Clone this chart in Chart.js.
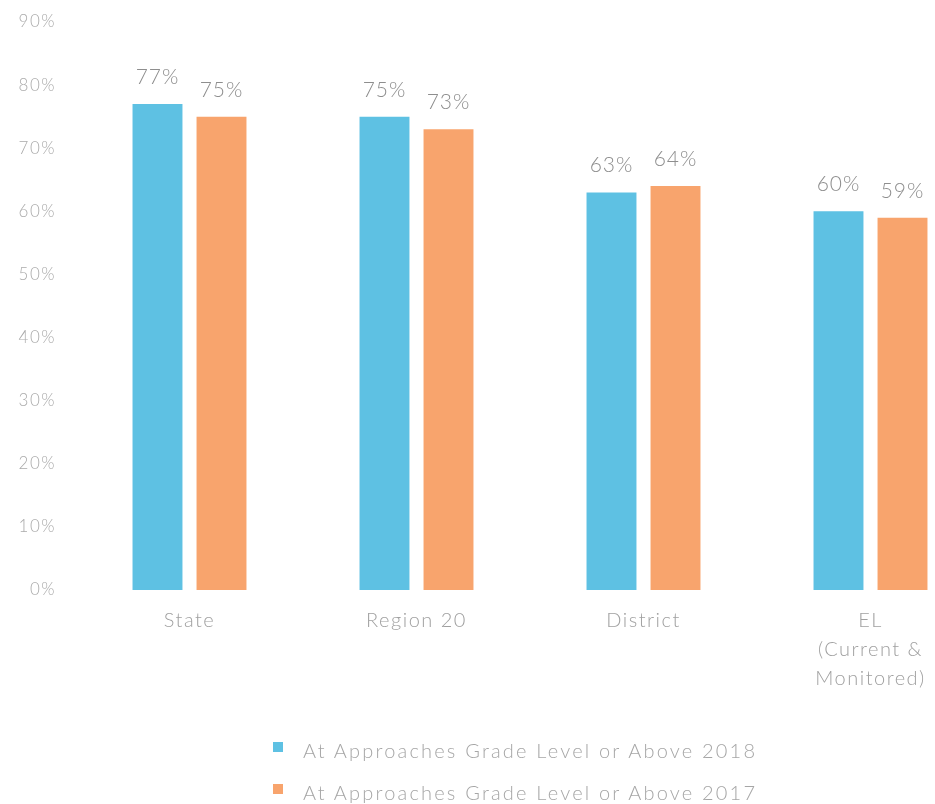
<!DOCTYPE html>
<html>
<head>
<meta charset="utf-8">
<script src="https://cdn.jsdelivr.net/npm/chart.js@4/dist/chart.umd.min.js"></script>
<style>
  html, body { margin: 0; padding: 0; background: #fff; overflow: hidden; width: 935px; height: 804px; }
  #wrap { position: relative; width: 990px; height: 804px; }
  #legend { position: absolute; left: 273px; top: 729px; font-family: Lato, "Open Sans", sans-serif; font-weight: 300; font-size: 20px; letter-spacing: 2.2px; color: #a6a6a6; white-space: nowrap; }
  .item { display: flex; align-items: center; height: 42px; }
  .sw { width: 10px; height: 10px; margin-right: 20px; margin-top: -6px; }
</style>
</head>
<body>
<div id="wrap">
  <canvas id="c" width="990" height="804"></canvas>
  <div id="legend"></div>
</div>
<script>
// Groups on the x axis (each entry is a list of label lines)
const categories = [["State"], ["Region 20"], ["District"], ["EL", "(Current &", "Monitored)"]];
// Percent at approaches grade level or above
const values2018 = [77, 75, 63, 60];
const values2017 = [75, 73, 64, 59];
const seriesNames = ["At Approaches Grade Level or Above 2018", "At Approaches Grade Level or Above 2017"];
const seriesColors = ["#5ec1e3", "#f8a46d"];
const yTicks = [0, 10, 20, 30, 40, 50, 60, 70, 80, 90];

const FONT = 'Lato, "Open Sans", sans-serif';

// Spaced-out lettering for the axis text drawn by Chart.js
const spacing = {
  id: 'spacing',
  beforeDraw(chart) { chart.ctx.letterSpacing = '1.5px'; }
};

// Value labels above each bar
const valueLabels = {
  id: 'valueLabels',
  afterDatasetsDraw(chart) {
    const ctx = chart.ctx;
    ctx.save();
    ctx.letterSpacing = '1px';
    ctx.font = '300 21px ' + FONT;
    ctx.fillStyle = '#8e8e8e';
    ctx.textAlign = 'center';
    ctx.textBaseline = 'alphabetic';
    chart.data.datasets.forEach((ds, i) => {
      chart.getDatasetMeta(i).data.forEach((bar, j) => {
        ctx.fillText(ds.data[j] + '%', bar.x, bar.y - 20);
      });
    });
    ctx.restore();
  }
};

// Multi-line category labels under the groups
const categoryLabels = {
  id: 'categoryLabels',
  afterDraw(chart) {
    const ctx = chart.ctx;
    const xs = chart.scales.x;
    ctx.save();
    ctx.letterSpacing = '1.5px';
    ctx.font = '300 20px ' + FONT;
    ctx.fillStyle = '#a0a0a0';
    ctx.textBaseline = 'middle';
    ctx.textAlign = 'center';
    categories.forEach((lines, i) => {
      const cx = xs.getPixelForValue(i);
      lines.forEach((line, k) => {
        ctx.fillText(line, cx, chart.chartArea.bottom + 31 + k * 29);
      });
    });
    ctx.restore();
  }
};

const chart = new Chart(document.getElementById('c'), {
  type: 'bar',
  data: {
    labels: categories.map(c => c.join(' ')),
    datasets: [
      { label: seriesNames[0], data: values2018, backgroundColor: seriesColors[0] },
      { label: seriesNames[1], data: values2017, backgroundColor: seriesColors[1] }
    ]
  },
  options: {
    responsive: false,
    animation: false,
    layout: { padding: { top: 22, right: 6, left: 0, bottom: 0 } },
    datasets: { bar: { categoryPercentage: 0.564, barPercentage: 0.78 } },
    plugins: { legend: { display: false }, tooltip: { enabled: false } },
    scales: {
      x: {
        grid: { display: false },
        border: { display: false },
        ticks: { display: false },
        afterFit(s) { s.height = 214; }
      },
      y: {
        min: 0, max: 90,
        afterBuildTicks(s) { s.ticks = yTicks.map(v => ({ value: v })); },
        grid: { display: false },
        border: { display: false },
        ticks: {
          font: { family: FONT, size: 17, weight: 300 },
          color: '#ababab',
          padding: 12,
          callback: v => v + '%'
        },
        afterFit(s) { s.width = 76; s.paddingTop = 0; s.paddingBottom = 0; }
      }
    }
  },
  plugins: [spacing, valueLabels, categoryLabels]
});

// Legend stacked in two rows below the chart
const legend = document.getElementById('legend');
seriesNames.forEach((name, i) => {
  const row = document.createElement('div');
  row.className = 'item';
  const sw = document.createElement('span');
  sw.className = 'sw';
  sw.style.background = seriesColors[i];
  const txt = document.createElement('span');
  txt.textContent = name;
  row.appendChild(sw);
  row.appendChild(txt);
  legend.appendChild(row);
});
</script>
</body>
</html>
